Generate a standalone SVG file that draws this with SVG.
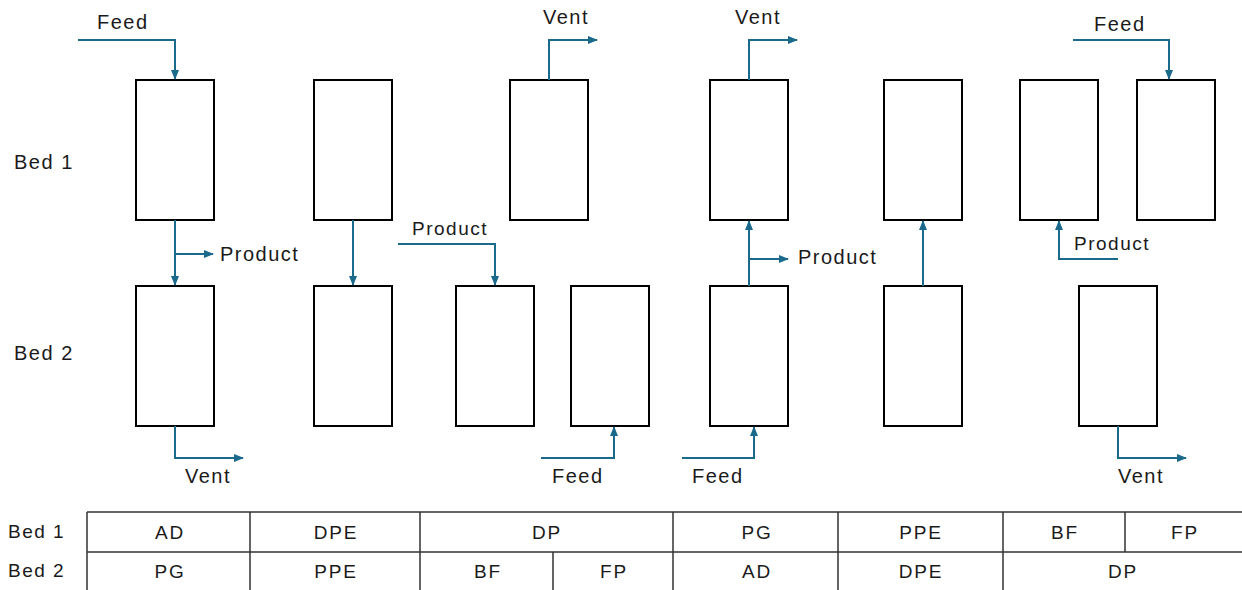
<svg xmlns="http://www.w3.org/2000/svg" width="1242" height="590" viewBox="0 0 1242 590">
  <style>
    .bed { fill: #ffffff; stroke: #000000; stroke-width: 2; }
    .flow { fill: none; stroke: #1b6a8c; stroke-width: 2; }
    .lbl { font-family: "Liberation Sans", Arial, sans-serif; font-size: 20px; letter-spacing: 1.5px; fill: #1a1a1a; }
    .sm { font-size: 19px; }
    .grid { stroke: #333333; stroke-width: 1.5; fill: none; }
    .cell { font-family: "Liberation Sans", Arial, sans-serif; font-size: 19px; letter-spacing: 1.8px; fill: #1a1a1a; text-anchor: middle; }
  </style>
  <defs>
    <marker id="arrow" markerUnits="userSpaceOnUse" markerWidth="10" markerHeight="8" refX="9" refY="4" orient="auto">
      <path d="M0,0 L10,4 L0,8 Z" fill="#1b6a8c"/>
    </marker>
  </defs>

  <rect width="1242" height="590" fill="#ffffff"/>

  <!-- row labels -->
  <text class="lbl" x="14" y="169">Bed 1</text>
  <text class="lbl" x="14" y="360">Bed 2</text>

  <!-- Bed 1 columns -->
  <g id="bed1-ad"><rect class="bed" x="136" y="80" width="78" height="140"/></g>
  <g id="bed1-dpe"><rect class="bed" x="314" y="80" width="78" height="140"/></g>
  <g id="bed1-dp"><rect class="bed" x="510" y="80" width="78" height="140"/></g>
  <g id="bed1-pg"><rect class="bed" x="710" y="80" width="78" height="140"/></g>
  <g id="bed1-ppe"><rect class="bed" x="884" y="80" width="78" height="140"/></g>
  <g id="bed1-bf"><rect class="bed" x="1020" y="80" width="78" height="140"/></g>
  <g id="bed1-fp"><rect class="bed" x="1137" y="80" width="78" height="140"/></g>

  <!-- Bed 2 columns -->
  <g id="bed2-pg"><rect class="bed" x="136" y="286" width="78" height="140"/></g>
  <g id="bed2-ppe"><rect class="bed" x="314" y="286" width="78" height="140"/></g>
  <g id="bed2-bf"><rect class="bed" x="456" y="286" width="78" height="140"/></g>
  <g id="bed2-fp"><rect class="bed" x="571" y="286" width="78" height="140"/></g>
  <g id="bed2-ad"><rect class="bed" x="710" y="286" width="78" height="140"/></g>
  <g id="bed2-dpe"><rect class="bed" x="884" y="286" width="78" height="140"/></g>
  <g id="bed2-dp"><rect class="bed" x="1079" y="286" width="78" height="140"/></g>

  <!-- flow lines -->
  <g id="connectors">
    <path class="flow" d="M78,40 H175 V79" marker-end="url(#arrow)"/>
    <path class="flow" d="M175,220 V285" marker-end="url(#arrow)"/>
    <path class="flow" d="M175,254 H213" marker-end="url(#arrow)"/>
    <path class="flow" d="M175,426 V458 H243" marker-end="url(#arrow)"/>

    <path class="flow" d="M353,220 V285" marker-end="url(#arrow)"/>

    <path class="flow" d="M398,244 H495 V285" marker-end="url(#arrow)"/>
    <path class="flow" d="M549,80 V40 H597" marker-end="url(#arrow)"/>
    <path class="flow" d="M541,458 H614 V427" marker-end="url(#arrow)"/>

    <path class="flow" d="M749,80 V40 H797" marker-end="url(#arrow)"/>
    <path class="flow" d="M749,286 V221" marker-end="url(#arrow)"/>
    <path class="flow" d="M749,259 H788" marker-end="url(#arrow)"/>
    <path class="flow" d="M682,458 H754 V427" marker-end="url(#arrow)"/>

    <path class="flow" d="M923,286 V221" marker-end="url(#arrow)"/>

    <path class="flow" d="M1118,259 H1059 V221" marker-end="url(#arrow)"/>
    <path class="flow" d="M1073,40 H1169 V79" marker-end="url(#arrow)"/>
    <path class="flow" d="M1118,426 V458 H1186" marker-end="url(#arrow)"/>
  </g>

  <!-- flow labels -->
  <text class="lbl" x="97" y="29">Feed</text>
  <text class="lbl" x="220" y="261">Product</text>
  <text class="lbl" x="185" y="483">Vent</text>
  <text class="lbl sm" x="412" y="235">Product</text>
  <text class="lbl" x="543" y="24">Vent</text>
  <text class="lbl" x="552" y="483">Feed</text>
  <text class="lbl" x="735" y="24">Vent</text>
  <text class="lbl" x="798" y="264">Product</text>
  <text class="lbl" x="692" y="483">Feed</text>
  <text class="lbl sm" x="1074" y="250">Product</text>
  <text class="lbl" x="1094" y="31">Feed</text>
  <text class="lbl" x="1118" y="483">Vent</text>

  <!-- step schedule table -->
  <g id="schedule">
    <path class="grid" d="M87,512 H1242 M87,552 H1242 M87,512 V590"/>
    <path class="grid" d="M250,512 V590 M420,512 V590 M673,512 V590 M838,512 V590 M1003,512 V590"/>
    <path class="grid" d="M1125,512 V552 M553,552 V590"/>
    <text class="lbl sm" x="8" y="538">Bed 1</text>
    <text class="lbl sm" x="8" y="577">Bed 2</text>
    <g transform="translate(1,0)">
      <text class="cell" x="169" y="539">AD</text>
      <text class="cell" x="335" y="539">DPE</text>
      <text class="cell" x="546" y="539">DP</text>
      <text class="cell" x="756" y="539">PG</text>
      <text class="cell" x="920" y="539">PPE</text>
      <text class="cell" x="1064" y="539">BF</text>
      <text class="cell" x="1184" y="539">FP</text>
      <text class="cell" x="169" y="578">PG</text>
      <text class="cell" x="335" y="578">PPE</text>
      <text class="cell" x="487" y="578">BF</text>
      <text class="cell" x="613" y="578">FP</text>
      <text class="cell" x="756" y="578">AD</text>
      <text class="cell" x="920" y="578">DPE</text>
      <text class="cell" x="1122" y="578">DP</text>
    </g>
  </g>
</svg>
